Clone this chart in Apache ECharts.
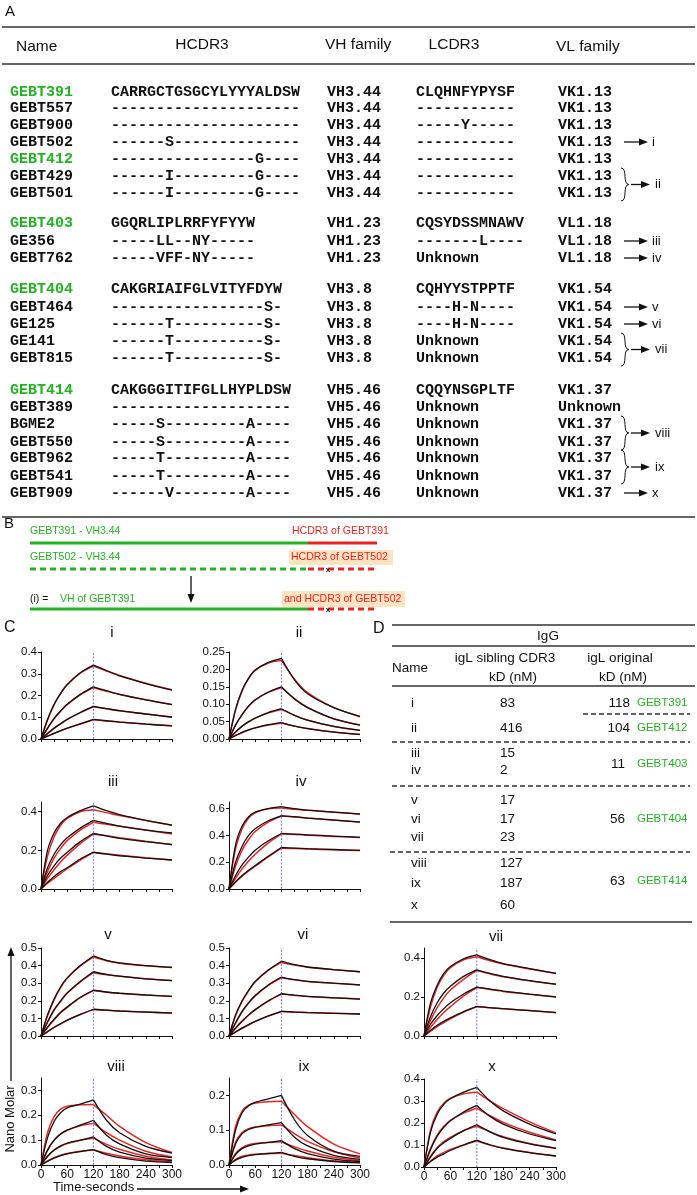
<!DOCTYPE html>
<html>
<head>
<meta charset="utf-8">
<script src="https://cdn.jsdelivr.net/npm/echarts@6/dist/echarts.min.js"></script>
<style>
html, body { margin: 0; background: #fff; }
#main { width: 697px; height: 1195px; }
</style>
</head>
<body>
<div id="main"></div>
<script>
// ---- panel A: sequence table ----
const names = ['GEBT391', 'GEBT557', 'GEBT900', 'GEBT502', 'GEBT412', 'GEBT429', 'GEBT501',
  'GEBT403', 'GE356', 'GEBT762',
  'GEBT404', 'GEBT464', 'GE125', 'GE141', 'GEBT815',
  'GEBT414', 'GEBT389', 'BGME2', 'GEBT550', 'GEBT962', 'GEBT541', 'GEBT909']
const hcdr3 = ['CARRGCTGSGCYLYYYALDSW', '---------------------', '---------------------', '------S--------------',
  '----------------G----', '------I---------G----', '------I---------G----',
  'GGQRLIPLRRFYFYYW', '-----LL--NY-----', '-----VFF-NY-----',
  'CAKGRIAIFGLVITYFDYW', '-----------------S-', '------T----------S-', '------T----------S-', '------T----------S-',
  'CAKGGGITIFGLLHYPLDSW', '--------------------', '-----S---------A----', '-----S---------A----',
  '-----T---------A----', '-----T---------A----', '------V--------A----']
const vhFamily = ['VH3.44', 'VH3.44', 'VH3.44', 'VH3.44', 'VH3.44', 'VH3.44', 'VH3.44',
  'VH1.23', 'VH1.23', 'VH1.23',
  'VH3.8', 'VH3.8', 'VH3.8', 'VH3.8', 'VH3.8',
  'VH5.46', 'VH5.46', 'VH5.46', 'VH5.46', 'VH5.46', 'VH5.46', 'VH5.46']
const lcdr3 = ['CLQHNFYPYSF', '-----------', '-----Y-----', '-----------', '-----------', '-----------', '-----------',
  'CQSYDSSMNAWV', '-------L----', 'Unknown',
  'CQHYYSTPPTF', '----H-N----', '----H-N----', 'Unknown', 'Unknown',
  'CQQYNSGPLTF', 'Unknown', 'Unknown', 'Unknown', 'Unknown', 'Unknown', 'Unknown']
const vlFamily = ['VK1.13', 'VK1.13', 'VK1.13', 'VK1.13', 'VK1.13', 'VK1.13', 'VK1.13',
  'VL1.18', 'VL1.18', 'VL1.18',
  'VK1.54', 'VK1.54', 'VK1.54', 'VK1.54', 'VK1.54',
  'VK1.37', 'Unknown', 'VK1.37', 'VK1.37', 'VK1.37', 'VK1.37', 'VK1.37']
const originalRows = [0, 4, 7, 10, 15]
const siblingRows = [[3], [5, 6], [8], [9], [11], [12], [13, 14], [17, 18], [19, 20], [21]]
const siblingLabels = ['i', 'ii', 'iii', 'iv', 'v', 'vi', 'vii', 'viii', 'ix', 'x']

// ---- panel D: affinity table ----
const dNames = ['i', 'ii', 'iii', 'iv', 'v', 'vi', 'vii', 'viii', 'ix', 'x']
const dSibling = [83, 416, 15, 2, 17, 17, 23, 127, 187, 60]
const dOriginal = [118, 104, 11, 56, 63]
const dOriginalNames = ['GEBT391', 'GEBT412', 'GEBT403', 'GEBT404', 'GEBT414']

// ---- panel C: binding curves (nM vs seconds) ----
const times = [0, 15, 30, 45, 60, 90, 120, 150, 180, 240, 300]
const injectionEnd = 120
const xTickLabels = [0, 60, 120, 180, 240, 300]
const yMax = [0.4, 0.25, 0.45, 0.65, 0.5, 0.5, 0.45, 0.35, 0.25, 0.4]
const yTicks = [
  [0, 0.1, 0.2, 0.3, 0.4], [0, 0.05, 0.1, 0.15, 0.2, 0.25], [0, 0.2, 0.4], [0, 0.2, 0.4, 0.6],
  [0, 0.1, 0.2, 0.3, 0.4, 0.5], [0, 0.1, 0.2, 0.3, 0.4, 0.5], [0, 0.2, 0.4],
  [0, 0.1, 0.2, 0.3], [0, 0.1, 0.2], [0, 0.1, 0.2, 0.3, 0.4]]

const obsI = [[0, 0.09, 0.16, 0.21, 0.25, 0.305, 0.34, 0.315, 0.29, 0.255, 0.225],
  [0, 0.05, 0.095, 0.13, 0.16, 0.205, 0.24, 0.222, 0.205, 0.18, 0.158],
  [0, 0.025, 0.05, 0.07, 0.09, 0.122, 0.15, 0.14, 0.13, 0.115, 0.1],
  [0, 0.013, 0.026, 0.038, 0.05, 0.07, 0.09, 0.084, 0.078, 0.068, 0.06]]
const fitI = [[0, 0.088, 0.158, 0.21, 0.25, 0.303, 0.335, 0.313, 0.292, 0.256, 0.226],
  [0, 0.049, 0.093, 0.128, 0.158, 0.203, 0.236, 0.22, 0.205, 0.18, 0.159],
  [0, 0.025, 0.049, 0.07, 0.09, 0.121, 0.148, 0.139, 0.13, 0.115, 0.101],
  [0, 0.013, 0.026, 0.038, 0.049, 0.069, 0.088, 0.083, 0.078, 0.069, 0.061]]
const obsII = [[0, 0.085, 0.14, 0.175, 0.198, 0.22, 0.232, 0.17, 0.13, 0.09, 0.065],
  [0, 0.04, 0.07, 0.095, 0.113, 0.135, 0.15, 0.115, 0.09, 0.058, 0.04],
  [0, 0.02, 0.037, 0.05, 0.06, 0.076, 0.087, 0.068, 0.054, 0.036, 0.025],
  [0, 0.01, 0.019, 0.026, 0.032, 0.041, 0.047, 0.037, 0.03, 0.02, 0.013]]
const fitII = [[0, 0.083, 0.138, 0.174, 0.197, 0.218, 0.226, 0.172, 0.133, 0.09, 0.064],
  [0, 0.04, 0.07, 0.094, 0.112, 0.134, 0.148, 0.116, 0.091, 0.058, 0.04],
  [0, 0.02, 0.036, 0.049, 0.06, 0.075, 0.085, 0.068, 0.054, 0.036, 0.025],
  [0, 0.01, 0.018, 0.026, 0.032, 0.04, 0.046, 0.037, 0.03, 0.02, 0.013]]
const obsIII = [[0, 0.2, 0.29, 0.34, 0.37, 0.405, 0.43, 0.405, 0.385, 0.355, 0.33],
  [0, 0.11, 0.18, 0.23, 0.265, 0.315, 0.355, 0.34, 0.325, 0.305, 0.29],
  [0, 0.07, 0.12, 0.16, 0.19, 0.245, 0.287, 0.275, 0.262, 0.245, 0.23],
  [0, 0.035, 0.065, 0.09, 0.11, 0.155, 0.19, 0.18, 0.172, 0.16, 0.15]]
const fitIII = [[0, 0.17, 0.27, 0.33, 0.365, 0.4, 0.41, 0.395, 0.38, 0.355, 0.33],
  [0, 0.09, 0.16, 0.21, 0.25, 0.305, 0.345, 0.335, 0.325, 0.305, 0.285],
  [0, 0.055, 0.1, 0.14, 0.175, 0.235, 0.285, 0.275, 0.265, 0.247, 0.23],
  [0, 0.03, 0.055, 0.08, 0.105, 0.15, 0.19, 0.182, 0.175, 0.162, 0.15]]
const obsIV = [[0, 0.33, 0.47, 0.54, 0.575, 0.6, 0.615, 0.6, 0.59, 0.575, 0.56],
  [0, 0.2, 0.32, 0.4, 0.45, 0.51, 0.547, 0.54, 0.53, 0.515, 0.5],
  [0, 0.1, 0.18, 0.24, 0.29, 0.36, 0.415, 0.41, 0.405, 0.395, 0.385],
  [0, 0.055, 0.1, 0.14, 0.175, 0.245, 0.31, 0.306, 0.302, 0.295, 0.288]]
const fitIV = [[0, 0.3, 0.45, 0.53, 0.57, 0.6, 0.605, 0.595, 0.588, 0.573, 0.56],
  [0, 0.17, 0.29, 0.37, 0.43, 0.5, 0.545, 0.538, 0.53, 0.515, 0.5],
  [0, 0.08, 0.15, 0.21, 0.26, 0.345, 0.41, 0.407, 0.402, 0.393, 0.385],
  [0, 0.05, 0.095, 0.135, 0.17, 0.24, 0.305, 0.302, 0.299, 0.293, 0.287]]
const obsV = [[0, 0.12, 0.21, 0.28, 0.33, 0.4, 0.455, 0.43, 0.415, 0.4, 0.39],
  [0, 0.08, 0.15, 0.2, 0.245, 0.31, 0.365, 0.35, 0.34, 0.325, 0.315],
  [0, 0.05, 0.095, 0.135, 0.165, 0.22, 0.26, 0.25, 0.243, 0.233, 0.225],
  [0, 0.025, 0.05, 0.07, 0.09, 0.123, 0.152, 0.147, 0.142, 0.136, 0.13]]
const fitV = [[0, 0.115, 0.205, 0.275, 0.328, 0.398, 0.448, 0.428, 0.414, 0.399, 0.389],
  [0, 0.078, 0.146, 0.197, 0.243, 0.308, 0.36, 0.348, 0.339, 0.325, 0.315],
  [0, 0.048, 0.092, 0.132, 0.163, 0.218, 0.258, 0.249, 0.243, 0.233, 0.225],
  [0, 0.024, 0.049, 0.069, 0.089, 0.122, 0.15, 0.146, 0.142, 0.136, 0.13]]
const obsVI = [[0, 0.12, 0.2, 0.26, 0.31, 0.375, 0.425, 0.405, 0.392, 0.377, 0.365],
  [0, 0.075, 0.14, 0.19, 0.23, 0.29, 0.335, 0.32, 0.31, 0.3, 0.29],
  [0, 0.045, 0.085, 0.12, 0.15, 0.2, 0.24, 0.232, 0.225, 0.217, 0.21],
  [0, 0.023, 0.045, 0.065, 0.083, 0.114, 0.14, 0.136, 0.133, 0.129, 0.125]]
const fitVI = [[0, 0.115, 0.196, 0.257, 0.308, 0.373, 0.418, 0.403, 0.391, 0.377, 0.365],
  [0, 0.073, 0.137, 0.187, 0.228, 0.288, 0.331, 0.319, 0.31, 0.299, 0.29],
  [0, 0.044, 0.083, 0.118, 0.148, 0.198, 0.238, 0.231, 0.225, 0.217, 0.21],
  [0, 0.022, 0.044, 0.064, 0.082, 0.113, 0.139, 0.136, 0.133, 0.129, 0.125]]
const obsVII = [[0, 0.17, 0.26, 0.32, 0.355, 0.395, 0.415, 0.39, 0.37, 0.345, 0.32],
  [0, 0.1, 0.17, 0.22, 0.255, 0.305, 0.338, 0.32, 0.305, 0.283, 0.265],
  [0, 0.06, 0.105, 0.14, 0.17, 0.215, 0.25, 0.24, 0.23, 0.214, 0.2],
  [0, 0.03, 0.055, 0.075, 0.093, 0.125, 0.152, 0.145, 0.14, 0.13, 0.12]]
const fitVII = [[0, 0.15, 0.25, 0.31, 0.35, 0.39, 0.405, 0.385, 0.368, 0.343, 0.32],
  [0, 0.08, 0.145, 0.195, 0.235, 0.29, 0.335, 0.318, 0.303, 0.282, 0.264],
  [0, 0.045, 0.085, 0.12, 0.15, 0.205, 0.248, 0.238, 0.228, 0.213, 0.2],
  [0, 0.025, 0.048, 0.068, 0.088, 0.122, 0.15, 0.144, 0.139, 0.13, 0.12]]
const obsVIII = [[0, 0.11, 0.175, 0.21, 0.23, 0.245, 0.262, 0.18, 0.13, 0.075, 0.048],
  [0, 0.06, 0.1, 0.125, 0.14, 0.16, 0.18, 0.12, 0.085, 0.045, 0.03],
  [0, 0.035, 0.06, 0.077, 0.088, 0.1, 0.113, 0.075, 0.052, 0.028, 0.018],
  [0, 0.015, 0.028, 0.038, 0.045, 0.054, 0.062, 0.042, 0.03, 0.016, 0.01]]
const fitVIII = [[0, 0.13, 0.195, 0.225, 0.236, 0.242, 0.243, 0.2, 0.155, 0.09, 0.05],
  [0, 0.06, 0.1, 0.125, 0.14, 0.158, 0.168, 0.13, 0.1, 0.055, 0.032],
  [0, 0.035, 0.06, 0.075, 0.086, 0.1, 0.108, 0.083, 0.063, 0.035, 0.02],
  [0, 0.016, 0.029, 0.039, 0.046, 0.055, 0.06, 0.047, 0.036, 0.021, 0.012]]
const obsIX = [[0, 0.1, 0.15, 0.17, 0.18, 0.19, 0.2, 0.13, 0.085, 0.04, 0.025],
  [0, 0.06, 0.09, 0.102, 0.108, 0.115, 0.122, 0.08, 0.055, 0.028, 0.016],
  [0, 0.03, 0.047, 0.055, 0.06, 0.065, 0.07, 0.047, 0.033, 0.017, 0.01],
  [0, 0.014, 0.022, 0.027, 0.03, 0.033, 0.036, 0.025, 0.018, 0.01, 0.006]]
const fitIX = [[0, 0.11, 0.155, 0.172, 0.178, 0.182, 0.183, 0.145, 0.11, 0.06, 0.032],
  [0, 0.065, 0.093, 0.104, 0.109, 0.113, 0.115, 0.09, 0.068, 0.038, 0.02],
  [0, 0.033, 0.05, 0.058, 0.062, 0.065, 0.067, 0.052, 0.04, 0.022, 0.012],
  [0, 0.016, 0.025, 0.029, 0.031, 0.033, 0.034, 0.027, 0.021, 0.012, 0.007]]
const obsX = [[0, 0.16, 0.24, 0.285, 0.31, 0.34, 0.362, 0.3, 0.255, 0.195, 0.15],
  [0, 0.08, 0.14, 0.18, 0.21, 0.25, 0.28, 0.23, 0.195, 0.15, 0.12],
  [0, 0.045, 0.085, 0.11, 0.13, 0.165, 0.192, 0.16, 0.135, 0.105, 0.085],
  [0, 0.025, 0.045, 0.06, 0.075, 0.1, 0.122, 0.1, 0.085, 0.065, 0.05]]
const fitX = [[0, 0.17, 0.25, 0.29, 0.313, 0.333, 0.34, 0.3, 0.265, 0.205, 0.155],
  [0, 0.085, 0.145, 0.185, 0.212, 0.245, 0.268, 0.233, 0.203, 0.158, 0.123],
  [0, 0.05, 0.088, 0.115, 0.135, 0.165, 0.185, 0.16, 0.138, 0.107, 0.085],
  [0, 0.027, 0.05, 0.066, 0.08, 0.1, 0.118, 0.1, 0.086, 0.066, 0.05]]

const observed = [obsI, obsII, obsIII, obsIV, obsV, obsVI, obsVII, obsVIII, obsIX, obsX]
const fitted = [fitI, fitII, fitIII, fitIV, fitV, fitVI, fitVII, fitVIII, fitIX, fitX]

// layout
const SANS = '"Liberation Sans", Arial, sans-serif'
const MONO = '"Liberation Mono", "Courier New", monospace'
const GREEN = '#22b522'
const RED = '#ee2222'
// grid boxes [left, top, width, height]
const boxes = [[41, 652, 131, 87], [229, 652, 131, 87], [41, 802, 131, 87], [229, 802, 131, 87],
  [41, 948, 131, 88], [229, 948, 131, 88], [424, 948, 132, 88],
  [41, 1078, 131, 87], [229, 1078, 131, 87], [424, 1079, 132, 88]]
const titlePos = [[112, 633], [299, 633], [113, 782], [301, 782], [108, 935], [303, 935],
  [496, 937], [116, 1067], [304, 1067], [492, 1067]]
const bottomRow = [7, 8, 9]
const rowY = [92, 108, 125, 142, 159, 176, 193, 223, 241, 258, 289, 307, 324, 341, 358,
  390, 407, 424, 442, 458, 476, 493]

const G = []
function txt (x, y, s, o) {
  G.push({ type: 'text', x: x, y: y, silent: true,
    style: Object.assign({ text: s, fill: '#111', fontSize: 13, fontFamily: SANS, align: 'left', verticalAlign: 'middle' }, o || {}) })
}
function seg (x1, y1, x2, y2, o) {
  G.push({ type: 'line', silent: true, shape: { x1: x1, y1: y1, x2: x2, y2: y2 },
    style: Object.assign({ stroke: '#111', lineWidth: 1 }, o || {}) })
}
function rect (x, y, w, h, fill) {
  G.push({ type: 'rect', silent: true, shape: { x: x, y: y, width: w, height: h }, style: { fill: fill } })
}
function arrowH (x1, x2, y) {
  seg(x1, y, x2 - 6, y, { lineWidth: 1.3 })
  G.push({ type: 'polygon', silent: true, shape: { points: [[x2, y], [x2 - 9, y - 3.5], [x2 - 9, y + 3.5]] }, style: { fill: '#111' } })
}
function arrowV (x, y1, y2) {
  const d = y2 > y1 ? 1 : -1
  seg(x, y1, x, y2 - d * 6, { lineWidth: 1.3 })
  G.push({ type: 'polygon', silent: true, shape: { points: [[x, y2], [x - 3.5, y2 - d * 9], [x + 3.5, y2 - d * 9]] }, style: { fill: '#111' } })
}
function brace (x, yTop, yBot) {
  const ym = (yTop + yBot) / 2
  const st = { stroke: '#111', lineWidth: 1, fill: null }
  G.push({ type: 'bezierCurve', silent: true, shape: { x1: x, y1: yTop, cpx1: x + 7, cpy1: yTop, cpx2: x + 1, cpy2: ym, x2: x + 8, y2: ym }, style: st })
  G.push({ type: 'bezierCurve', silent: true, shape: { x1: x, y1: yBot, cpx1: x + 7, cpy1: yBot, cpx2: x + 1, cpy2: ym, x2: x + 8, y2: ym }, style: st })
}

// ---- panel A ----
txt(5, 12, 'A', { fontSize: 15 })
seg(2, 27, 695, 27, { lineWidth: 1.5, stroke: '#333' })
txt(16, 47, 'Name', { fontSize: 15.5 })
txt(202, 45, 'HCDR3', { fontSize: 15.5, align: 'center' })
txt(325, 45, 'VH family', { fontSize: 15.5 })
txt(454, 45, 'LCDR3', { fontSize: 15.5, align: 'center' })
txt(556, 47, 'VL family', { fontSize: 15.5 })
seg(2, 64, 695, 64, { lineWidth: 1.5, stroke: '#333' })
names.forEach(function (n, i) {
  const y = rowY[i]
  const mono = { fontFamily: MONO, fontWeight: 'bold', fontSize: 15 }
  txt(10, y, n, Object.assign({}, mono, { fill: originalRows.indexOf(i) >= 0 ? GREEN : '#111' }))
  txt(111, y, hcdr3[i], mono)
  txt(327, y, vhFamily[i], mono)
  txt(416, y, lcdr3[i], mono)
  txt(558, y, vlFamily[i], mono)
})
siblingRows.forEach(function (rows, k) {
  if (rows.length === 1) {
    const y = rowY[rows[0]]
    arrowH(624, 648, y)
    txt(652, y, siblingLabels[k], { fontSize: 13 })
  } else {
    const y1 = rowY[rows[0]] - 8
    const y2 = rowY[rows[1]] + 8
    brace(621, y1, y2)
    arrowH(631, 650, (y1 + y2) / 2)
    txt(655, (y1 + y2) / 2, siblingLabels[k], { fontSize: 13 })
  }
})
seg(2, 517, 695, 517, { lineWidth: 1.5, stroke: '#333' })

// ---- panel B ----
txt(4, 524, 'B', { fontSize: 15 })
txt(30, 531, 'GEBT391 - VH3.44', { fontSize: 10.5, fill: GREEN })
txt(292, 531, 'HCDR3 of GEBT391', { fontSize: 10.5, fill: RED })
seg(30, 543, 308, 543, { stroke: GREEN, lineWidth: 3 })
seg(308, 543, 377, 543, { stroke: RED, lineWidth: 3 })
rect(289, 550, 104, 15, '#fde3c2')
txt(30, 557, 'GEBT502 - VH3.44', { fontSize: 10.5, fill: GREEN })
txt(291, 557, 'HCDR3 of GEBT502', { fontSize: 10.5, fill: RED })
seg(30, 569, 308, 569, { stroke: GREEN, lineWidth: 3, lineDash: [6, 4] })
seg(308, 569, 377, 569, { stroke: RED, lineWidth: 3, lineDash: [6, 4] })
txt(328, 570, 'x', { fontSize: 8, align: 'center', fontWeight: 'bold' })
arrowV(191, 576, 603)
txt(30, 599, '(i) =', { fontSize: 10.5 })
txt(60, 599, 'VH of GEBT391', { fontSize: 10.5, fill: GREEN })
rect(282, 591, 123, 16, '#fde3c2')
txt(284, 599, 'and HCDR3 of GEBT502', { fontSize: 10.5, fill: RED })
seg(30, 609, 308, 609, { stroke: GREEN, lineWidth: 3 })
seg(308, 609, 377, 609, { stroke: RED, lineWidth: 3, lineDash: [6, 4] })
txt(328, 610, 'x', { fontSize: 8, align: 'center', fontWeight: 'bold' })

// ---- panel C labels ----
txt(4, 628, 'C', { fontSize: 16 })
titlePos.forEach(function (t, p) {
  txt(t[0], t[1], siblingLabels[p], { fontSize: 15, align: 'center' })
})
G.push({ type: 'text', x: 10, y: 1119, rotation: Math.PI / 2, silent: true,
  style: { text: 'Nano Molar', fill: '#111', fontSize: 13, fontFamily: SANS, align: 'center', verticalAlign: 'middle' } })
arrowV(11, 1081, 947)
txt(53, 1187, 'Time-seconds', { fontSize: 13 })
arrowH(137, 249, 1189)

// ---- panel D ----
txt(373, 629, 'D', { fontSize: 16 })
seg(392, 625, 695, 625, { lineWidth: 1.5, stroke: '#333' })
txt(548, 636, 'IgG', { fontSize: 13.5, align: 'center' })
seg(392, 646, 695, 646, { lineWidth: 1.5, stroke: '#333' })
txt(392, 668, 'Name', { fontSize: 13.5 })
txt(505, 658, 'igL sibling CDR3', { fontSize: 13.5, align: 'center' })
txt(513, 677, 'kD (nM)', { fontSize: 13.5, align: 'center' })
txt(620, 658, 'igL original', { fontSize: 13.5, align: 'center' })
txt(623, 677, 'kD (nM)', { fontSize: 13.5, align: 'center' })
seg(392, 686, 695, 686, { lineWidth: 1.5, stroke: '#333' })
const dRowY = [703, 728, 753, 770, 800, 819, 837, 863, 883, 905]
dNames.forEach(function (n, i) {
  txt(411, dRowY[i], n, { fontSize: 13.5 })
  txt(500, dRowY[i], String(dSibling[i]), { fontSize: 13.5 })
})
const origY = [703, 728, 764, 819, 881]
const origRight = [630, 630, 625, 625, 625]
dOriginal.forEach(function (v, k) {
  txt(origRight[k], origY[k], String(v), { fontSize: 13.5, align: 'right' })
  txt(637, origY[k], dOriginalNames[k], { fontSize: 11.5, fill: GREEN })
})
const dash = { lineDash: [5, 3], lineWidth: 1.3, stroke: '#333' }
seg(583, 714, 690, 714, dash)
seg(392, 742, 690, 742, dash)
seg(392, 786, 690, 786, dash)
seg(390, 852, 690, 852, dash)
seg(390, 922, 692, 922, { lineWidth: 1.5, stroke: '#333' })

// ---- charts ----
function split (vals) {
  const a = []
  const d = []
  times.forEach(function (t, k) {
    if (t <= injectionEnd) a.push([t, vals[k]])
    if (t >= injectionEnd) d.push([t, vals[k]])
  })
  return [a, d]
}
const grids = []
const xAxes = []
const yAxes = []
const series = []
boxes.forEach(function (b, p) {
  grids.push({ left: b[0], top: b[1], width: b[2], height: b[3], containLabel: false, outerBoundsMode: 'none' })
  const dec = p === 1 ? 2 : 1
  xAxes.push({
    type: 'value', gridIndex: p, min: 0, max: 300, interval: 30,
    axisLine: { show: true, onZero: false, lineStyle: { color: '#111', width: 1 } },
    axisTick: { show: true, length: 3, lineStyle: { color: '#111' } },
    axisLabel: { show: bottomRow.indexOf(p) >= 0, customValues: xTickLabels, margin: 4, color: '#111', fontSize: 12, fontFamily: SANS },
    splitLine: { show: false }
  })
  yAxes.push({
    type: 'value', gridIndex: p, min: 0, max: yMax[p],
    axisLine: { show: true, onZero: false, lineStyle: { color: '#111', width: 1 } },
    axisTick: { show: true, length: 3, customValues: yTicks[p], lineStyle: { color: '#111' } },
    axisLabel: { customValues: yTicks[p], margin: 4, color: '#111', fontSize: 11.5, fontFamily: SANS,
      formatter: function (v) { return Number(v).toFixed(dec) } },
    splitLine: { show: false }
  })
  // end-of-injection marker
  series.push({ type: 'line', xAxisIndex: p, yAxisIndex: p, symbol: 'none', silent: true, animation: false, z: 2,
    data: [[injectionEnd, 0], [injectionEnd, yMax[p]]],
    lineStyle: { color: '#7676ff', type: [2, 1.5], width: 1 } })
  const line = function (data, color, width, z) {
    return { type: 'line', xAxisIndex: p, yAxisIndex: p, data: data, smooth: 0.3, symbol: 'none',
      silent: true, animation: false, z: z, lineStyle: { color: color, width: width } }
  }
  fitted[p].forEach(function (vals) {
    split(vals).forEach(function (part) { series.push(line(part, RED, 1.5, 3)) })
  })
  observed[p].forEach(function (vals) {
    split(vals).forEach(function (part) { series.push(line(part, '#111', 1.3, 4)) })
  })
})

const chart = echarts.init(document.getElementById('main'), null, { renderer: 'canvas' })
chart.setOption({
  backgroundColor: '#ffffff',
  animation: false,
  grid: grids,
  xAxis: xAxes,
  yAxis: yAxes,
  series: series,
  graphic: { elements: G }
})
</script>
</body>
</html>
